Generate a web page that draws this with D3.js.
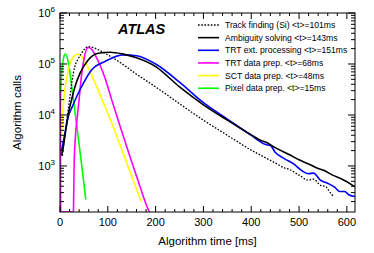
<!DOCTYPE html>
<html><head><meta charset="utf-8">
<script src="https://cdn.jsdelivr.net/npm/d3@7"></script>
<style>body{margin:0;background:#fff}svg{display:block;font-family:"Liberation Sans",Arial,Helvetica,sans-serif}</style>
</head><body><svg id="c" width="374" height="253"></svg>
<script>
// ---- data ----
const pixelT = [0.3, 1.5, 3, 5.5, 8, 11, 14, 17.5, 21, 24, 28, 35, 45, 54];
const pixelV = [3e3, 2.7e4, 5.5e4, 1e5, 1.4e5, 1.57e5, 1.45e5, 1.05e5, 6.5e4, 4e4, 2e4, 6.3e3, 1.1e3, 220];

const sctT = [0.3, 1, 3, 6, 10, 15, 20, 25, 30, 37, 45, 55, 70, 90, 110, 130, 150, 170];
const sctV = [150, 1000, 4000, 1.2e4, 3e4, 6e4, 9.5e4, 1.25e5, 1.45e5, 1.55e5, 1.42e5, 1e5, 5e4, 1.8e4, 6.3e3, 2e3, 630, 200];

const trtPrepT = [0, 0.3, 1.5, 28, 28.3, 29.5, 32, 36, 40, 44, 51, 59, 66, 75, 85, 95, 108, 125, 145, 165, 180, 187];
const trtPrepV = [0, 3e4, 0, 0, 150, 1000, 3500, 9000, 2e4, 4.9e4, 1.38e5, 2.1e5, 1.95e5, 1.41e5, 8.9e4, 5e4, 2e4, 6.3e3, 1.66e3, 460, 178, 112];

const ambT = [3, 7, 12, 18, 24, 31, 42, 59, 80, 105, 130, 160, 200, 250, 300, 350, 400, 420, 430, 450, 480, 500, 520, 540, 550, 570, 590, 600, 617];
const ambV = [1.6e3, 2.4e3, 5e3, 1.12e4, 1.95e4, 3.5e4, 6.6e4, 1.2e5, 1.62e5, 1.7e5, 1.58e5, 1.32e5, 8.9e4, 3.55e4, 1.58e4, 7.9e3, 4074, 3162, 2951, 2291, 1660, 1318, 1096, 891, 832, 661, 550, 490, 389];

const trtExtT = [3.5, 10.5, 17.4, 25, 35, 49, 66, 94, 132, 160, 200, 250, 300, 350, 400, 430, 440, 450, 470, 490, 500, 520, 530, 545, 560, 575, 585, 595, 605, 617];
const trtExtV = [2.05e3, 4.5e3, 9.3e3, 1.4e4, 2.3e4, 4.2e4, 7.6e4, 1.12e5, 1.51e5, 1.45e5, 1.0e5, 4.4e4, 1.74e4, 8.3e3, 3981, 2630, 2512, 1862, 1380, 1072, 891, 708, 724, 525, 457, 380, 316, 316, 269, 251];

const siT = [5, 10, 15, 20, 25, 31, 38, 45, 52, 59, 70, 80, 100, 129, 160, 200, 250, 300, 350, 400, 430, 450, 470, 480, 500, 520, 530, 545, 555, 565, 572];
const siV = [1.58e3, 4e3, 8.9e3, 2e4, 4.5e4, 8.9e4, 1.26e5, 1.62e5, 2e5, 2.19e5, 2.09e5, 1.9e5, 1.51e5, 1.02e5, 6.3e4, 3.55e4, 1.66e4, 7.9e3, 4e3, 2042, 1445, 1148, 912, 851, 661, 525, 550, 417, 398, 302, 251];

const seriesNames = ["Track finding (Si) <t>=101ms", "Ambiguity solving <t>=143ms", "TRT ext. processing <t>=151ms",
                     "TRT data prep. <t>=68ms", "SCT data prep. <t>=48ms", "Pixel data prep. <t>=15ms"];
const seriesColors = ["#000000", "#000000", "#0000ff", "#ff00ff", "#ffff00", "#00ff00"];
const xTicks = [0, 100, 200, 300, 400, 500, 600];
const yExponents = [3, 4, 5, 6];
const xTitle = "Algorithm time [ms]";
const yTitle = "Algorithm calls";
const label = "ATLAS";

// ---- layout ----
const L = 60, R = 355, T = 13, B = 212;
const svg = d3.select("#c");
const x = d3.scaleLinear().domain([0, 617]).range([L, R]);
const y = d3.scaleLog().domain([125, 1e6]).range([B, T]).clamp(true);

const series = [
  {t: siT, v: siV, dash: "1.6,1.6", w: 1.3},
  {t: ambT, v: ambV},
  {t: trtExtT, v: trtExtV},
  {t: trtPrepT, v: trtPrepV},
  {t: sctT, v: sctV},
  {t: pixelT, v: pixelV}
].map((s, i) => Object.assign(s, {name: seriesNames[i], color: seriesColors[i]}));

svg.append("defs").append("clipPath").attr("id", "clip")
  .append("rect").attr("x", L).attr("y", T).attr("width", R - L).attr("height", B - T);

const line = d3.line().curve(d3.curveMonotoneX).x(d => x(d[0])).y(d => y(d[1]));
const g = svg.append("g").attr("clip-path", "url(#clip)");
[5, 4, 3, 0, 2, 1].forEach(i => {
  const s = series[i];
  g.append("path").datum(s.t.map((t, k) => [t, s.v[k]]))
    .attr("d", line).attr("fill", "none").attr("stroke", s.color)
    .attr("stroke-width", s.w || 1.6).attr("stroke-dasharray", s.dash || null)
    .attr("stroke-linejoin", "round");
});

// frame
svg.append("rect").attr("x", L).attr("y", T).attr("width", R - L).attr("height", B - T)
  .attr("fill", "none").attr("stroke", "#000").attr("stroke-width", 1);

// x ticks (bottom and top, inward)
d3.range(0, 617, 20).forEach(v => {
  const major = v % 100 === 0;
  const len = major ? 6 : 3;
  svg.append("line").attr("x1", x(v)).attr("x2", x(v)).attr("y1", B).attr("y2", B - len).attr("stroke", "#000");
  svg.append("line").attr("x1", x(v)).attr("x2", x(v)).attr("y1", T).attr("y2", T + len).attr("stroke", "#000");
});
svg.append("g").selectAll("text").data(xTicks).join("text")
  .attr("x", d => x(d)).attr("y", 226).attr("text-anchor", "middle")
  .attr("font-size", 11).text(d => d);

// y ticks (left and right, inward)
const yT = [];
for (let e = 2; e <= 5; e++) for (let m = 1; m <= 9; m++) yT.push(m * Math.pow(10, e));
yT.push(1e6);
yT.filter(v => v >= 125 && v <= 1e6).forEach(v => {
  const major = Math.abs(Math.log10(v) - Math.round(Math.log10(v))) < 1e-9;
  const len = major ? 7 : 4;
  svg.append("line").attr("x1", L).attr("x2", L + len).attr("y1", y(v)).attr("y2", y(v)).attr("stroke", "#000");
  svg.append("line").attr("x1", R).attr("x2", R - len).attr("y1", y(v)).attr("y2", y(v)).attr("stroke", "#000");
});
const yl = svg.append("g").selectAll("text").data(yExponents).join("text")
  .attr("x", 55).attr("y", d => y(Math.pow(10, d)) + 4).attr("text-anchor", "end").attr("font-size", 11);
yl.append("tspan").text("10");
yl.append("tspan").attr("dy", -5).attr("font-size", 8).text(d => d);

// titles
svg.append("text").attr("x", (L + R) / 2).attr("y", 245).attr("text-anchor", "middle")
  .attr("font-size", 11.5).text(xTitle);
svg.append("text").attr("transform", `translate(21,${(T + B) / 2}) rotate(-90)`)
  .attr("text-anchor", "middle").attr("font-size", 11.5).text(yTitle);

// ATLAS label
svg.append("text").attr("x", 118).attr("y", 34).attr("font-size", 14.5)
  .attr("font-weight", "bold").attr("font-style", "italic").text(label);

// legend
const lg = svg.append("g");
series.forEach((s, i) => {
  const yy = 25 + i * 12.65;
  lg.append("line").attr("x1", 198).attr("x2", 219).attr("y1", yy).attr("y2", yy)
    .attr("stroke", s.color).attr("stroke-width", s.w || 1.6).attr("stroke-dasharray", s.dash || null);
  lg.append("text").attr("x", 225).attr("y", yy + 3).attr("font-size", 8.6).text(s.name);
});
</script></body></html>
